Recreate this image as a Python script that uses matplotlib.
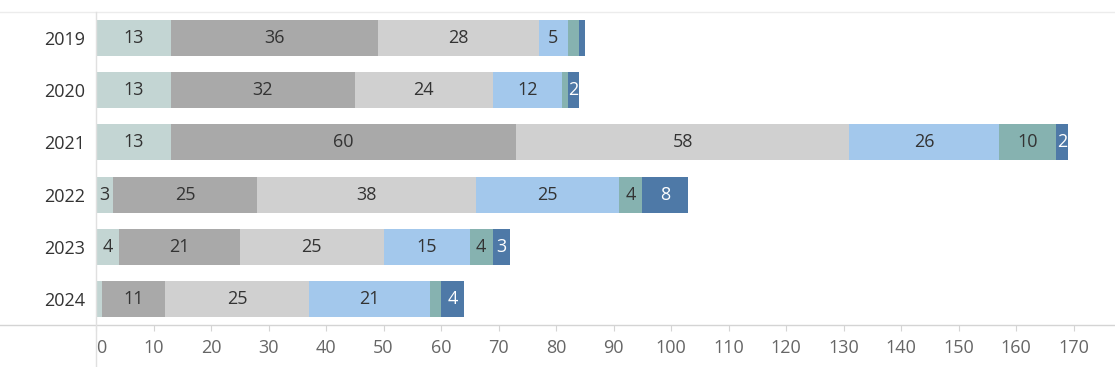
import matplotlib.pyplot as plt
import numpy as np
from matplotlib.lines import Line2D

# data
years = ['2019', '2020', '2021', '2022', '2023', '2024']
seg1 = [13, 13, 13, 3, 4, 1]
seg2 = [36, 32, 60, 25, 21, 11]
seg3 = [28, 24, 58, 38, 25, 25]
seg4 = [5, 12, 26, 25, 15, 21]
seg5 = [2, 1, 10, 4, 4, 2]
seg6 = [1, 2, 2, 8, 3, 4]
xticks = list(range(0, 171, 10))

series = [seg1, seg2, seg3, seg4, seg5, seg6]
colors = ['#c3d5d3', '#a9a9a9', '#d0d0d0', '#a3c8ec', '#86b2b0', '#4e79a7']
text_colors = ['#333333'] * 5 + ['white']

plt.rcParams['font.family'] = ['Open Sans', 'DejaVu Sans']

W, H = 1115, 367
fig = plt.figure(figsize=(W / 100, H / 100), dpi=100)
x0, y_top, y_bot = 96, 12, 325
ax = fig.add_axes([x0 / W, (H - y_bot) / H, (W - x0) / W, (y_bot - y_top) / H])

y = np.arange(len(years))
left = np.zeros(len(years))
for i, (vals, c) in enumerate(zip(series, colors)):
    vals = np.array(vals)
    ax.barh(y, vals, left=left, height=0.69, color=c, linewidth=0)
    for j, v in enumerate(vals):
        last = i == len(series) - 1
        if v >= 3 or (last and v >= 2):
            ax.text(left[j] + v / 2, y[j], str(v), ha='center', va='center',
                    fontsize=13, color=text_colors[i])
    left += vals

ax.set_xlim(0, (W - x0) / 5.75)
ax.set_ylim(len(years) - 0.5, -0.5)
for s in ax.spines.values():
    s.set_visible(False)

ax.set_yticks(y)
ax.set_yticklabels(years, fontsize=13, color='#333333')
ax.tick_params(axis='y', length=0, pad=8)
ax.set_xticks(xticks)
ax.set_xticklabels([str(t) for t in xticks], fontsize=13, color='#666666')
ax.tick_params(axis='x', length=4, color='#d4d4d4', pad=6)
ax.get_xticklabels()[0].set_horizontalalignment('left')

# header / axis rules
fig.add_artist(Line2D([0, 1], [(H - y_top) / H] * 2, color='#ececec', lw=1))
fig.add_artist(Line2D([0, 1], [(H - y_bot) / H] * 2, color='#d4d4d4', lw=1))
fig.add_artist(Line2D([x0 / W] * 2, [0, (H - y_top) / H], color='#e0e0e0', lw=1))

fig.savefig('out.png', dpi=100)
